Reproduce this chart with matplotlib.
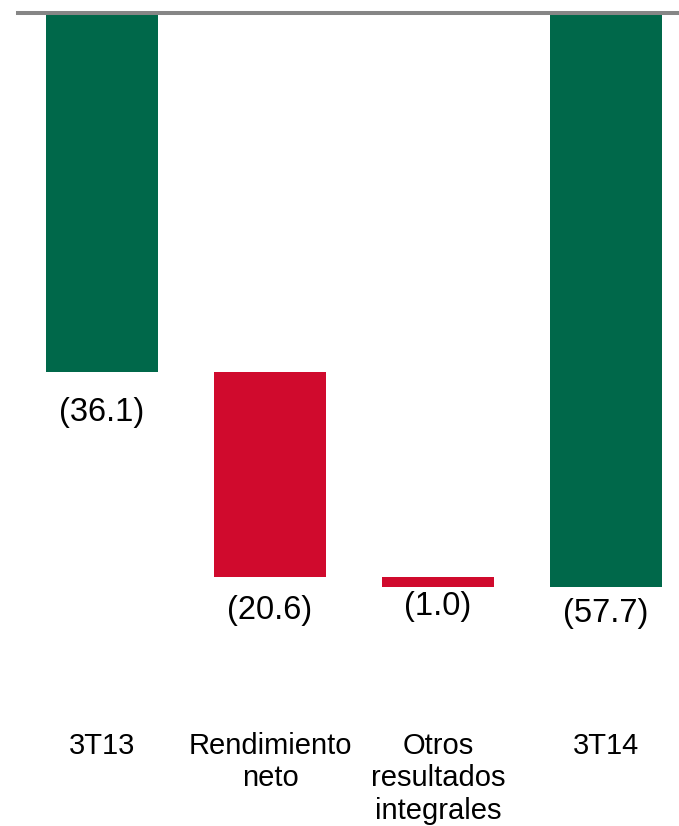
import numpy as np
import matplotlib
matplotlib.use("Agg")
import matplotlib.pyplot as plt

plt.rcParams['font.family'] = ['Liberation Sans', 'DejaVu Sans']

categories = ["3T13", "Rendimiento\nneto", "Otros\nresultados\nintegrales", "3T14"]
values = [-36.1, -20.6, -1.0, -57.7]
is_total = [True, False, False, True]
labels = ["(36.1)", "(20.6)", "(1.0)", "(57.7)"]

green = "#00684A"
red = "#D00A2D"

# waterfall bases
bases = []
running = 0.0
for v, tot in zip(values, is_total):
    if tot:
        bases.append(0.0)
        running = v
    else:
        bases.append(running)
        running += v
bases = np.array(bases)
vals = np.array(values)
colors = [green if t else red for t in is_total]

W, H = 679, 826
fig = plt.figure(figsize=(W / 100, H / 100), dpi=100)
top_px, bot_px, left_px = 13, 729, 18
ax = fig.add_axes([left_px / W, 1 - bot_px / H, (W - left_px) / W, (bot_px - top_px) / H])

x = np.arange(len(categories))
ax.bar(x, vals, bottom=bases, width=0.667, color=colors, zorder=1)

ax.set_ylim(-72, 0)
ax.set_xlim(-0.5, -0.5 + (W - left_px) / 168)

# value labels below each bar (offsets in pixels)
offsets = [41, 34, 20, 27]
for xi, b, v, lab, off in zip(x, bases, vals, labels, offsets):
    ax.annotate(lab, (xi, b + v), xytext=(0, -off * 0.72), textcoords="offset points",
                ha="center", va="center", fontsize=23.5, color="black")

ax.set_xticks(x)
ax.set_xticklabels(categories, fontsize=21, linespacing=1.2, va="top")
ax.tick_params(axis="x", length=0, pad=2)
ax.set_yticks([])

for s in ["left", "right", "bottom"]:
    ax.spines[s].set_visible(False)
ax.spines["top"].set_color("#868686")
ax.spines["top"].set_linewidth(2.9)
ax.spines["top"].set_zorder(3)

fig.savefig("out.png", dpi=100)
